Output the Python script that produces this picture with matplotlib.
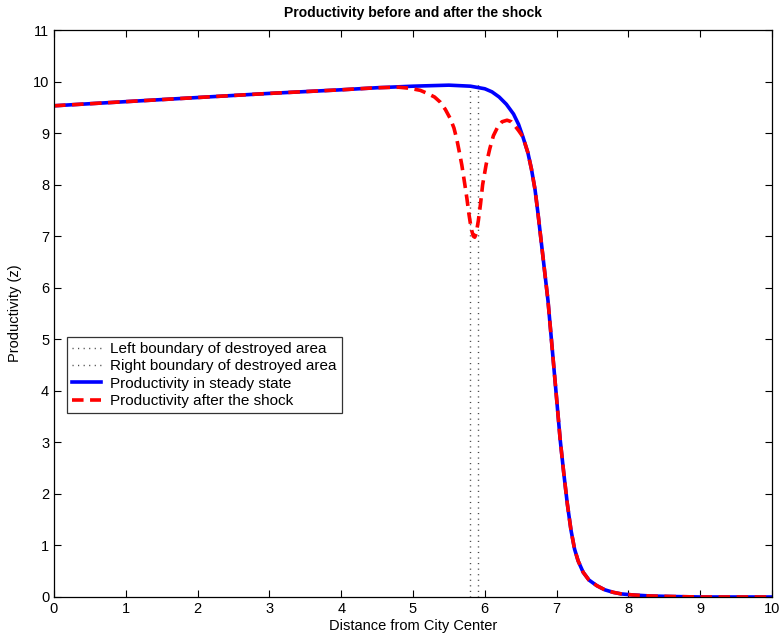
import numpy as np
import matplotlib
matplotlib.use("Agg")
import matplotlib.pyplot as plt

plt.rcParams['font.family'] = ['Liberation Sans', 'DejaVu Sans']

# 稳态下的生产率
x_steady = [0, 1, 2, 3, 4, 4.5, 5.0, 5.5, 5.8, 6.0, 6.1, 6.2, 6.3, 6.4, 6.47,
            6.53, 6.6, 6.65, 6.7, 6.74, 6.81, 6.88, 6.94, 7.0, 7.05, 7.1,
            7.15, 7.2, 7.25, 7.3, 7.37, 7.45, 7.56, 7.67, 7.79, 7.9, 8.06,
            8.3, 8.6, 9.0, 10.0]
z_steady = [9.53, 9.61, 9.69, 9.77, 9.84, 9.88, 9.91, 9.93, 9.91, 9.86, 9.8,
            9.7, 9.56, 9.37, 9.17, 8.93, 8.62, 8.3, 7.9, 7.45, 6.6, 5.75, 4.8,
            3.85, 3.05, 2.4, 1.8, 1.3, 0.93, 0.7, 0.48, 0.33, 0.22, 0.14,
            0.09, 0.06, 0.04, 0.02, 0.01, 0.0, 0.0]

# 冲击后的生产率
x_shock = [0, 1, 2, 3, 4, 4.5, 4.8, 4.95, 5.1, 5.2, 5.3, 5.38, 5.45, 5.52,
           5.57, 5.61, 5.65, 5.68, 5.72, 5.75, 5.78, 5.81, 5.84, 5.86, 5.88,
           5.91, 5.94, 5.97, 6.02, 6.07, 6.12, 6.18, 6.24, 6.31, 6.37, 6.42,
           6.47, 6.53, 6.6, 6.65, 6.7, 6.74, 6.81, 6.88, 6.94, 7.0, 7.05,
           7.1, 7.15, 7.2, 7.25, 7.3, 7.37, 7.45, 7.56, 7.67, 7.79, 7.9,
           8.06, 8.3, 8.6, 9.0, 10.0]
z_shock = [9.53, 9.61, 9.69, 9.77, 9.84, 9.88, 9.89, 9.87, 9.83, 9.77, 9.7,
           9.6, 9.46, 9.28, 9.1, 8.88, 8.6, 8.38, 8.02, 7.74, 7.42, 7.15,
           7.0, 6.98, 7.05, 7.3, 7.62, 8.0, 8.4, 8.7, 8.95, 9.12, 9.22, 9.25,
           9.22, 9.14, 9.05, 8.93, 8.62, 8.3, 7.9, 7.45, 6.6, 5.75, 4.8,
           3.85, 3.05, 2.4, 1.8, 1.3, 0.93, 0.7, 0.48, 0.33, 0.22, 0.14,
           0.09, 0.06, 0.04, 0.02, 0.01, 0.0, 0.0]

# 被破坏区域的边界
left_boundary = 5.8
right_boundary = 5.9
boundary_top = 10

fig = plt.figure(figsize=(7.8, 6.41), dpi=100)
ax = fig.add_axes([54 / 780, 44 / 641, 718 / 780, 567 / 641])

dots = (0, (0.8, 3.2))
ax.plot([left_boundary, left_boundary], [0, boundary_top], color='#444444',
        linestyle=dots, lw=1.0, label='Left boundary of destroyed area')
ax.plot([right_boundary, right_boundary], [0, boundary_top], color='#444444',
        linestyle=dots, lw=1.0, label='Right boundary of destroyed area')
ax.plot(x_steady, z_steady, color='blue', lw=2.6,
        label='Productivity in steady state')
ax.plot(x_shock, z_shock, color='red', lw=2.6, linestyle=(0, (3.2, 1.8)),
        label='Productivity after the shock')

ax.set_xlim(0, 10)
ax.set_ylim(0, 11)
ax.set_xticks(range(0, 11))
ax.set_yticks(range(0, 12))
ax.tick_params(direction='in', top=True, right=True, labelsize=10.5,
               length=5, width=0.8)
for s in ax.spines.values():
    s.set_linewidth(0.9)

ax.set_title('Productivity before and after the shock', fontsize=10,
             fontweight='bold', pad=9)
ax.set_xlabel('Distance from City Center', fontsize=10.5, labelpad=2)
ax.set_ylabel('Productivity (z)', fontsize=10.5, labelpad=8)

leg = ax.legend(loc='lower left', bbox_to_anchor=(0.018, 0.324),
                fontsize=11, frameon=True, fancybox=False, borderaxespad=0,
                handlelength=1.85, handletextpad=0.65, labelspacing=0.22,
                borderpad=0.35)
leg.get_frame().set_edgecolor('black')
leg.get_frame().set_linewidth(0.9)

fig.savefig('out.png', dpi=100)
